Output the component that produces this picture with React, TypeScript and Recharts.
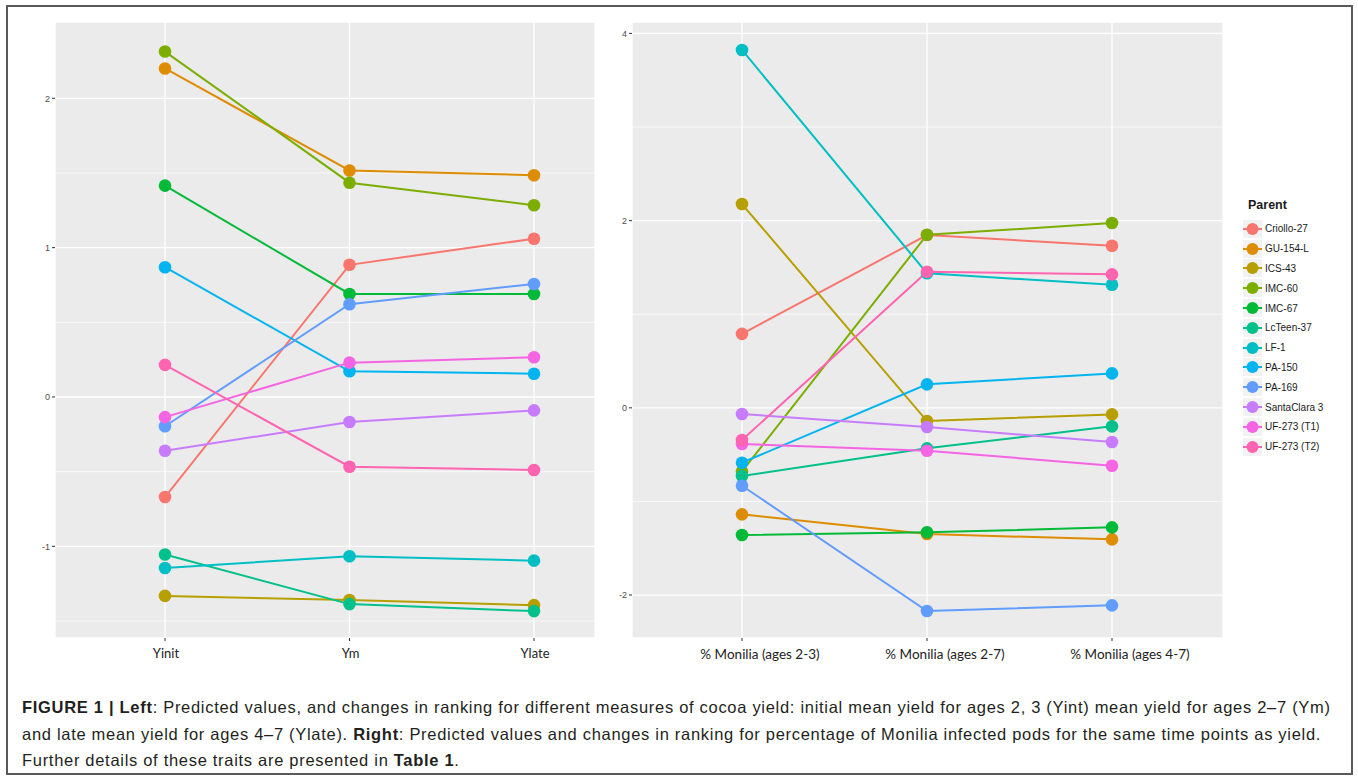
import { CartesianGrid, Line, LineChart, ReferenceLine, XAxis, YAxis } from "recharts";

// Parents in legend order, with ggplot's default 12-step hue palette.
const PARENTS = [
  "Criollo-27",
  "GU-154-L",
  "ICS-43",
  "IMC-60",
  "IMC-67",
  "LcTeen-37",
  "LF-1",
  "PA-150",
  "PA-169",
  "SantaClara 3",
  "UF-273 (T1)",
  "UF-273 (T2)",
];
const PARENT_COLORS = [
  "#F8766D",
  "#DE8C00",
  "#B79F00",
  "#7CAE00",
  "#00BA38",
  "#00C08B",
  "#00BFC4",
  "#00B4F0",
  "#619CFF",
  "#C77CFF",
  "#F564E3",
  "#FF64B0",
];

const YIELD_TRAITS = ["Yinit", "Ym", "Ylate"];
const MONILIA_TRAITS = ["% Monilia (ages 2-3)", "% Monilia (ages 2-7)", "% Monilia (ages 4-7)"];

// one row per parent, one value per trait
const YIELD_VALUES = [
  [-0.67, 0.885, 1.06],
  [2.2, 1.517, 1.485],
  [-1.332, -1.36, -1.394],
  [2.313, 1.435, 1.284],
  [1.415, 0.69, 0.69],
  [-1.055, -1.387, -1.434],
  [-1.145, -1.067, -1.096],
  [0.869, 0.172, 0.156],
  [-0.196, 0.621, 0.757],
  [-0.36, -0.168, -0.09],
  [-0.135, 0.23, 0.266],
  [0.215, -0.467, -0.489],
];
const MONILIA_VALUES = [
  [0.79, 1.846, 1.732],
  [-1.138, -1.348, -1.405],
  [2.177, -0.141, -0.07],
  [-0.68, 1.849, 1.974],
  [-1.359, -1.33, -1.277],
  [-0.729, -0.433, -0.198],
  [3.823, 1.437, 1.315],
  [-0.586, 0.251, 0.368],
  [-0.832, -2.171, -2.11],
  [-0.066, -0.205, -0.365],
  [-0.387, -0.458, -0.618],
  [-0.344, 1.454, 1.426],
];

const YIELD_TICKS = [-1, 0, 1, 2];
const YIELD_MINOR = [-1.5, -0.5, 0.5, 1.5];
const MONILIA_TICKS = [-2, 0, 2, 4];
const MONILIA_MINOR = [-1, 1, 3];

const PANEL_BG = "#EBEBEB";
const AXIS_TEXT = "#4D4D4D";
const SANS = '"Liberation Sans", Arial, sans-serif';

function toRows(traits: string[], values: number[][]) {
  return traits.map((trait, i) => {
    const row: Record<string, string | number> = { trait };
    values.forEach((v, p) => {
      row[`p${p}`] = v[i];
    });
    return row;
  });
}

interface PanelProps {
  rows: Record<string, string | number>[];
  ticks: number[];
  minor: number[];
  domain: [number, number];
  width: number;
  yWidth: number;
  marginRight: number;
  pad: { left: number; right: number };
  labelSize: number;
  labelShift: number;
}

function TraitPanel({ rows, ticks, minor, domain, width, yWidth, marginRight, pad, labelSize, labelShift }: PanelProps) {
  return (
    <LineChart
      width={width}
      height={680}
      data={rows}
      margin={{ top: 22, right: marginRight, bottom: 0, left: 0 }}
    >
      <CartesianGrid fill={PANEL_BG} fillOpacity={1} stroke="#FFFFFF" strokeWidth={1.3} />
      {minor.map((v) => (
        <ReferenceLine key={v} y={v} stroke="#FFFFFF" strokeWidth={0.7} />
      ))}
      <XAxis
        dataKey="trait"
        padding={pad}
        interval={0}
        axisLine={false}
        tickLine={{ stroke: "#333333" }}
        tickSize={3}
        tickMargin={8}
        height={42}
        tick={{ fontSize: labelSize, fill: "#222222", fontFamily: "Lato, sans-serif", dx: labelShift }}
      />
      <YAxis
        type="number"
        domain={domain}
        allowDataOverflow
        ticks={ticks}
        width={yWidth}
        axisLine={false}
        tickLine={{ stroke: "#333333" }}
        tickSize={3}
        tickMargin={2}
        tick={{ fontSize: 9, fill: AXIS_TEXT, fontFamily: SANS }}
      />
      {PARENTS.map((name, p) => (
        <Line
          key={name}
          name={name}
          dataKey={`p${p}`}
          stroke={PARENT_COLORS[p]}
          strokeWidth={2}
          dot={{ r: 6.3, fill: PARENT_COLORS[p], stroke: "none", strokeWidth: 0 }}
          activeDot={false}
          isAnimationActive={false}
        />
      ))}
    </LineChart>
  );
}

function ParentLegend() {
  return (
    <div style={{ position: "absolute", left: 1243, top: 198, fontFamily: SANS }}>
      <div style={{ fontSize: 12.5, fontWeight: "bold", color: "#1A1A1A", marginLeft: 5, height: 21 }}>Parent</div>
      {PARENTS.map((name, p) => (
        <div key={name} style={{ display: "flex", alignItems: "center", height: 19.8 }}>
          <svg width={19} height={18}>
            <rect x={0} y={0} width={19} height={18} fill="#F2F2F2" />
            <line x1={0} y1={9} x2={19} y2={9} stroke={PARENT_COLORS[p]} strokeWidth={2} />
            <circle cx={9.5} cy={9} r={6} fill={PARENT_COLORS[p]} />
          </svg>
          <span style={{ fontSize: 10, color: "#1A1A1A", marginLeft: 3 }}>{name}</span>
        </div>
      ))}
    </div>
  );
}

const captionLine: React.CSSProperties = { whiteSpace: "nowrap", height: 26.5 };

export default function App() {
  return (
    <div style={{ position: "absolute", left: 0, top: 0, width: 1358, height: 779, background: "#FFFFFF" }}>
      <div
        style={{
          position: "absolute",
          left: 6,
          top: 5,
          width: 1347,
          height: 770,
          border: "2px solid #5A5A5A",
          boxSizing: "border-box",
        }}
      />
      <div style={{ position: "absolute", left: 0, top: 0 }}>
        <TraitPanel
          rows={toRows(YIELD_TRAITS, YIELD_VALUES)}
          ticks={YIELD_TICKS}
          minor={YIELD_MINOR}
          domain={[-1.614, 2.511]}
          width={600}
          yWidth={55}
          marginRight={5}
          pad={{ left: 110, right: 61 }}
          labelSize={13}
          labelShift={1}
        />
      </div>
      <div style={{ position: "absolute", left: 600, top: 0 }}>
        <TraitPanel
          rows={toRows(MONILIA_TRAITS, MONILIA_VALUES)}
          ticks={MONILIA_TICKS}
          minor={MONILIA_MINOR}
          domain={[-2.459, 4.122]}
          width={630}
          yWidth={32}
          marginRight={7}
          pad={{ left: 110, right: 111 }}
          labelSize={13.5}
          labelShift={18}
        />
      </div>
      <ParentLegend />
      <div
        style={{
          position: "absolute",
          left: 22,
          top: 694,
          fontFamily: SANS,
          fontSize: 16.5,
          letterSpacing: "0.7px",
          lineHeight: "26.5px",
          color: "#231F20",
        }}
      >
        <div style={captionLine}>
          <b>FIGURE 1 | Left</b>: Predicted values, and changes in ranking for different measures of cocoa yield:
          initial mean yield for ages 2, 3 (Yint) mean yield for ages 2–7 (Ym)
        </div>
        <div style={captionLine}>
          and late mean yield for ages 4–7 (Ylate). <b>Right</b>: Predicted values and changes in ranking for
          percentage of Monilia infected pods for the same time points as yield.
        </div>
        <div style={captionLine}>
          Further details of these traits are presented in <b>Table 1</b>.
        </div>
      </div>
    </div>
  );
}
